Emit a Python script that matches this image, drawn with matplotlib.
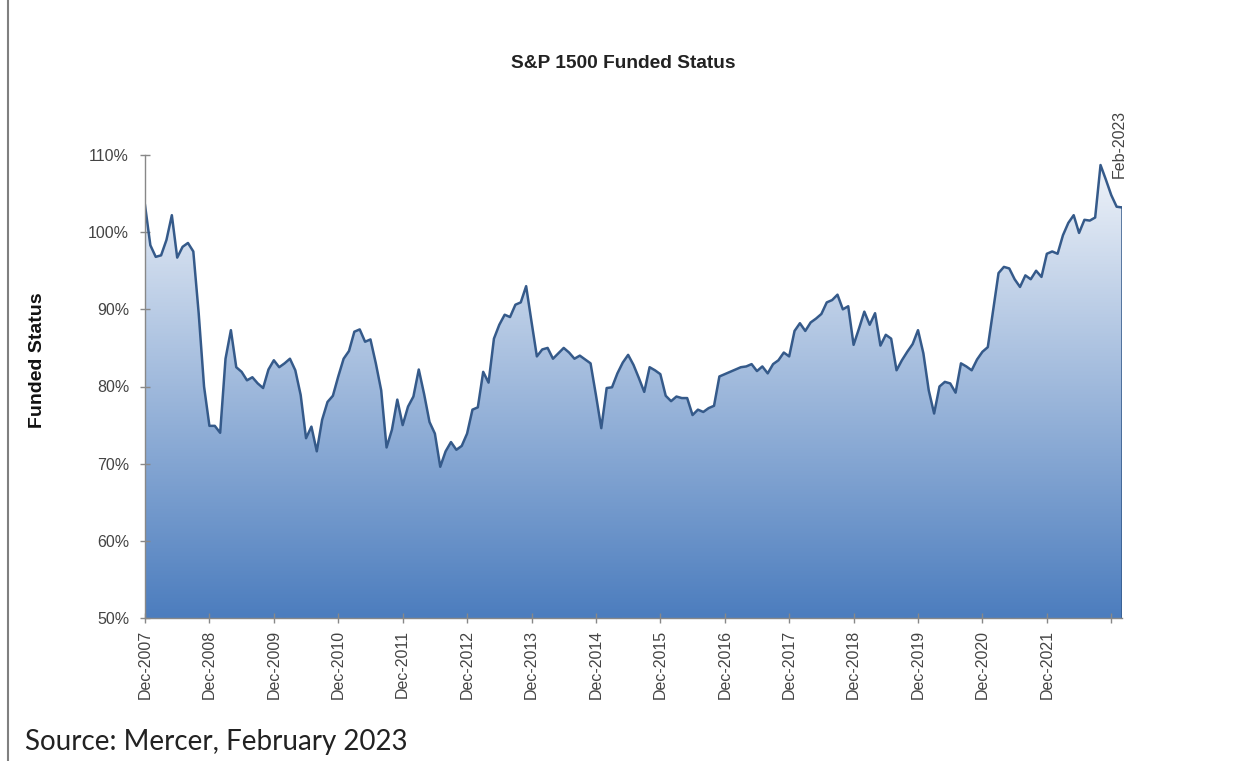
import numpy as np
import matplotlib
matplotlib.use("Agg")
import matplotlib.pyplot as plt
from matplotlib.lines import Line2D

# monthly funded status, Dec-2007 .. Feb-2023
funded = [
    103.5, 98.3, 96.8, 97.0, 99.0, 102.2, 96.7, 98.1, 98.6, 97.5,
    89.5, 80.0, 74.9, 74.9, 74.0, 83.6, 87.3, 82.5, 81.9, 80.8,
    81.2, 80.4, 79.8, 82.2, 83.4, 82.5, 83.0, 83.6, 82.1, 78.9,
    73.3, 74.8, 71.6, 75.7, 78.0, 78.8, 81.3, 83.6, 84.6, 87.1,
    87.4, 85.8, 86.1, 83.0, 79.5, 72.1, 74.4, 78.3, 75.0, 77.4,
    78.7, 82.2, 79.0, 75.4, 73.9, 69.6, 71.6, 72.8, 71.8, 72.3,
    73.9, 77.0, 77.3, 81.9, 80.5, 86.2, 88.0, 89.3, 89.0, 90.6,
    90.9, 93.0, 88.4, 83.9, 84.8, 85.0, 83.6, 84.3, 85.0, 84.4,
    83.6, 84.0, 83.5, 83.0, 78.9, 74.6, 79.8, 79.9, 81.7, 83.1,
    84.1, 82.8, 81.1, 79.3, 82.5, 82.1, 81.6, 78.8, 78.1, 78.7,
    78.5, 78.5, 76.3, 77.0, 76.7, 77.2, 77.5, 81.3, 81.6, 81.9,
    82.2, 82.5, 82.6, 82.9, 82.0, 82.6, 81.7, 82.9, 83.4, 84.4,
    83.9, 87.2, 88.2, 87.2, 88.3, 88.8, 89.4, 90.9, 91.2, 91.9,
    90.0, 90.4, 85.4, 87.5, 89.7, 88.0, 89.5, 85.3, 86.7, 86.2,
    82.1, 83.4, 84.5, 85.5, 87.3, 84.3, 79.5, 76.5, 80.0, 80.6,
    80.4, 79.2, 83.0, 82.6, 82.1, 83.5, 84.5, 85.1, 89.9, 94.7,
    95.5, 95.3, 93.9, 92.9, 94.4, 93.9, 95.0, 94.2, 97.2, 97.5,
    97.2, 99.6, 101.2, 102.2, 99.9, 101.6, 101.5, 101.9, 108.7, 106.8,
    104.8, 103.3, 103.2,
]
tick_labels = ["Dec-%d" % y for y in range(2007, 2022)] + [""]
y_ticks = [50, 60, 70, 80, 90, 100, 110]
end_label = "Feb-2023"

plt.rcParams["font.family"] = ["Liberation Sans", "DejaVu Sans"]

months = np.arange(len(funded))
vals = np.array(funded)

fig = plt.figure(figsize=(12.54, 7.61), dpi=100)
ax = fig.add_axes([145 / 1254, 1 - 618 / 761, (1122 - 145) / 1254, (618 - 155) / 761])

# gradient fill clipped to the area under the line
poly = ax.fill_between(months, vals, 50, color="none", lw=0)
top = np.array([242, 245, 250]) / 255
bot = np.array([76, 125, 190]) / 255
t = np.linspace(0, 1, 256)[:, None]
grad = top * (1 - t) + bot * t
grad = grad[:, None, :]
img = ax.imshow(grad, extent=[0, months[-1], 50, 110], aspect="auto", origin="upper", zorder=1)
path = poly.get_paths()[0]
img.set_clip_path(path, transform=ax.transData)

ax.plot(months, vals, color="#355a8a", lw=1.8, zorder=3)
ax.plot([months[-1], months[-1]], [50, vals[-1]], color="#355a8a", lw=1.8, zorder=3)

ax.set_xlim(0, months[-1])
ax.set_ylim(50, 110)
ax.set_yticks(y_ticks)
ax.set_yticklabels(["%d%%" % v for v in y_ticks], fontsize=11.5, color="#444444")
ax.set_xticks(np.arange(0, len(funded), 12)[:len(tick_labels)])
ax.set_xticklabels(tick_labels, rotation=90, fontsize=11.5, color="#444444")
ax.tick_params(axis="both", direction="inout", length=7, color="#888888", width=1)
ax.tick_params(axis="y", pad=8)
ax.tick_params(axis="x", pad=5)

for s in ["top", "right"]:
    ax.spines[s].set_visible(False)
for s in ["left", "bottom"]:
    ax.spines[s].set_color("#888888")
    ax.spines[s].set_linewidth(1)
    ax.spines[s].set_zorder(4)

fig.text(37 / 1254, 1 - 360 / 761, "Funded Status", rotation=90, ha="center", va="center",
         fontsize=14, fontweight="bold", color="#111111")
ax.text(months[-1] - 0.6, 107.0, end_label, rotation=90, fontsize=11.5, color="#444444",
        ha="center", va="bottom")

fig.text(623 / 1254, 1 - 63 / 761, "S&P 1500 Funded Status", ha="center", va="center",
         fontsize=13.8, fontweight="bold", color="#222222")
fig.text(25 / 1254, 1 - 742 / 761, "Source: Mercer, February 2023", ha="left", va="center",
         fontsize=20, family=["Lato", "DejaVu Sans"], color="#222222")

fig.add_artist(Line2D([8 / 1254, 8 / 1254], [0, 1], color="#808080", lw=1.5))

fig.savefig("out.png", dpi=100)
